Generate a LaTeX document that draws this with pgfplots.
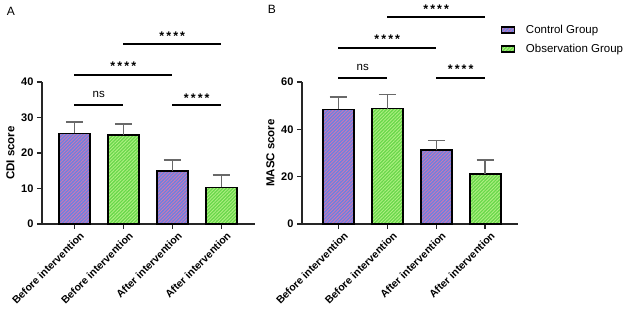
\documentclass[border=0pt]{standalone}
\usepackage{fontspec}
\setmainfont{Liberation Sans}
\usepackage{pgfplots}
\pgfplotsset{compat=1.18}
\usetikzlibrary{patterns.meta}
\definecolor{ctrlbase}{RGB}{105,130,225}
\definecolor{ctrlstripe}{RGB}{205,120,180}
\definecolor{obsbase}{RGB}{105,215,75}
\definecolor{obsstripe}{RGB}{175,240,130}
\definecolor{errgray}{RGB}{105,105,105}
\tikzset{
  sig/.style={line width=1.4pt, black},
  star/.style={font=\bfseries\fontsize{12.5}{13}\selectfont},
  nstext/.style={font=\fontsize{11.5}{13}\selectfont},
}
\pgfplotsset{
  ctrl/.style={draw=black, line width=1.8pt, fill=ctrlbase,
    postaction={pattern={Lines[angle=45,distance=2.4pt,line width=0.9pt]}, pattern color=ctrlstripe}},
  obs/.style={draw=black, line width=1.8pt, fill=obsbase,
    postaction={pattern={Lines[angle=45,distance=2.4pt,line width=0.9pt]}, pattern color=obsstripe}},
  panel/.style={
    scale only axis, height=142pt, ymin=0,
    axis x line*=bottom, axis y line*=left,
    axis line style={line width=1.4pt, black!85},
    tick style={line width=1.4pt, black!85}, tick align=outside, major tick length=5pt,
    xtick={0,1,2,3},
    xticklabels={Before intervention,Before intervention,After intervention,After intervention},
    xticklabel style={rotate=45, anchor=north east, font=\bfseries\fontsize{10.5}{12}\selectfont,
      inner sep=1pt, xshift=3pt, yshift=-4pt},
    yticklabel style={font=\bfseries\fontsize{11}{13}\selectfont},
    /pgf/number format/assume math mode=true,
    ylabel style={font=\bfseries\fontsize{11.5}{13}\selectfont},
    clip=false,
    ybar, bar width=31pt, bar shift=0pt,
    error bars/y dir=plus, error bars/y explicit,
    error bars/error bar style={errgray, line width=1.4pt},
    error bars/error mark options={rotate=90, mark size=8.5pt, errgray, line width=1.4pt},
    legend image code/.code={\draw[#1, line width=1.3pt] (0pt,-3pt) rectangle (13pt,3pt);},
  },
}
\begin{document}
\begin{tikzpicture}
\useasboundingbox (0,0) rectangle (625pt,311pt);
\node[font=\fontsize{12}{14}\selectfont] at (11pt,300pt) {A};
\node[font=\fontsize{12}{14}\selectfont] at (272pt,302pt) {B};
% Panel A
\begin{axis}[panel, at={(42pt,87pt)}, anchor=south west, width=213pt,
  xmin=-0.66, xmax=3.69, ymax=40, ytick={0,10,20,30,40}, ylabel={CDI score}]
\addplot[ctrl] coordinates {(0,25.5) +- (0,3.2) (2,15.0) +- (0,3.0)};
\addplot[obs] coordinates {(1,25.0) +- (0,3.2) (3,10.3) +- (0,3.5)};
\draw[sig] (axis cs:0,33.5) -- (axis cs:1,33.5);
\node[nstext] at (axis cs:0.5,36.4) {ns};
\draw[sig] (axis cs:2,33.5) -- (axis cs:3,33.5);
\node[star] at (axis cs:2.5,35.5) {*\,*\,*\,*};
\draw[sig] (axis cs:0,42) -- (axis cs:2,42);
\node[star] at (axis cs:1,44.5) {*\,*\,*\,*};
\draw[sig] (axis cs:1,50.7) -- (axis cs:3,50.7);
\node[star] at (axis cs:2,53.0) {*\,*\,*\,*};
\end{axis}
% Panel B
\begin{axis}[panel, at={(302pt,87pt)}, anchor=south west, width=216pt,
  xmin=-0.74, xmax=3.67, ymax=60, ytick={0,20,40,60}, ylabel={MASC score},
  legend style={at={(0.905,1.43)}, anchor=north west, draw=none, fill=none,
    font=\fontsize{11.5}{13}\selectfont, row sep=5pt, cells={anchor=west},
    /tikz/every odd column/.append style={column sep=9pt}}]
\addplot[ctrl] coordinates {(0,48.4) +- (0,5.3) (2,31.1) +- (0,4.2)};
\addlegendentry{Control Group}
\addplot[obs] coordinates {(1,48.8) +- (0,5.8) (3,21.1) +- (0,5.9)};
\addlegendentry{Observation Group}
\draw[sig] (axis cs:0,61.7) -- (axis cs:1,61.7);
\node[nstext] at (axis cs:0.5,66.3) {ns};
\draw[sig] (axis cs:2,61.7) -- (axis cs:3,61.7);
\node[star] at (axis cs:2.5,65.2) {*\,*\,*\,*};
\draw[sig] (axis cs:0,74.3) -- (axis cs:2,74.3);
\node[star] at (axis cs:1,78.0) {*\,*\,*\,*};
\draw[sig] (axis cs:1,87.4) -- (axis cs:3,87.4);
\node[star] at (axis cs:2,90.9) {*\,*\,*\,*};
\end{axis}
\end{tikzpicture}
\end{document}
